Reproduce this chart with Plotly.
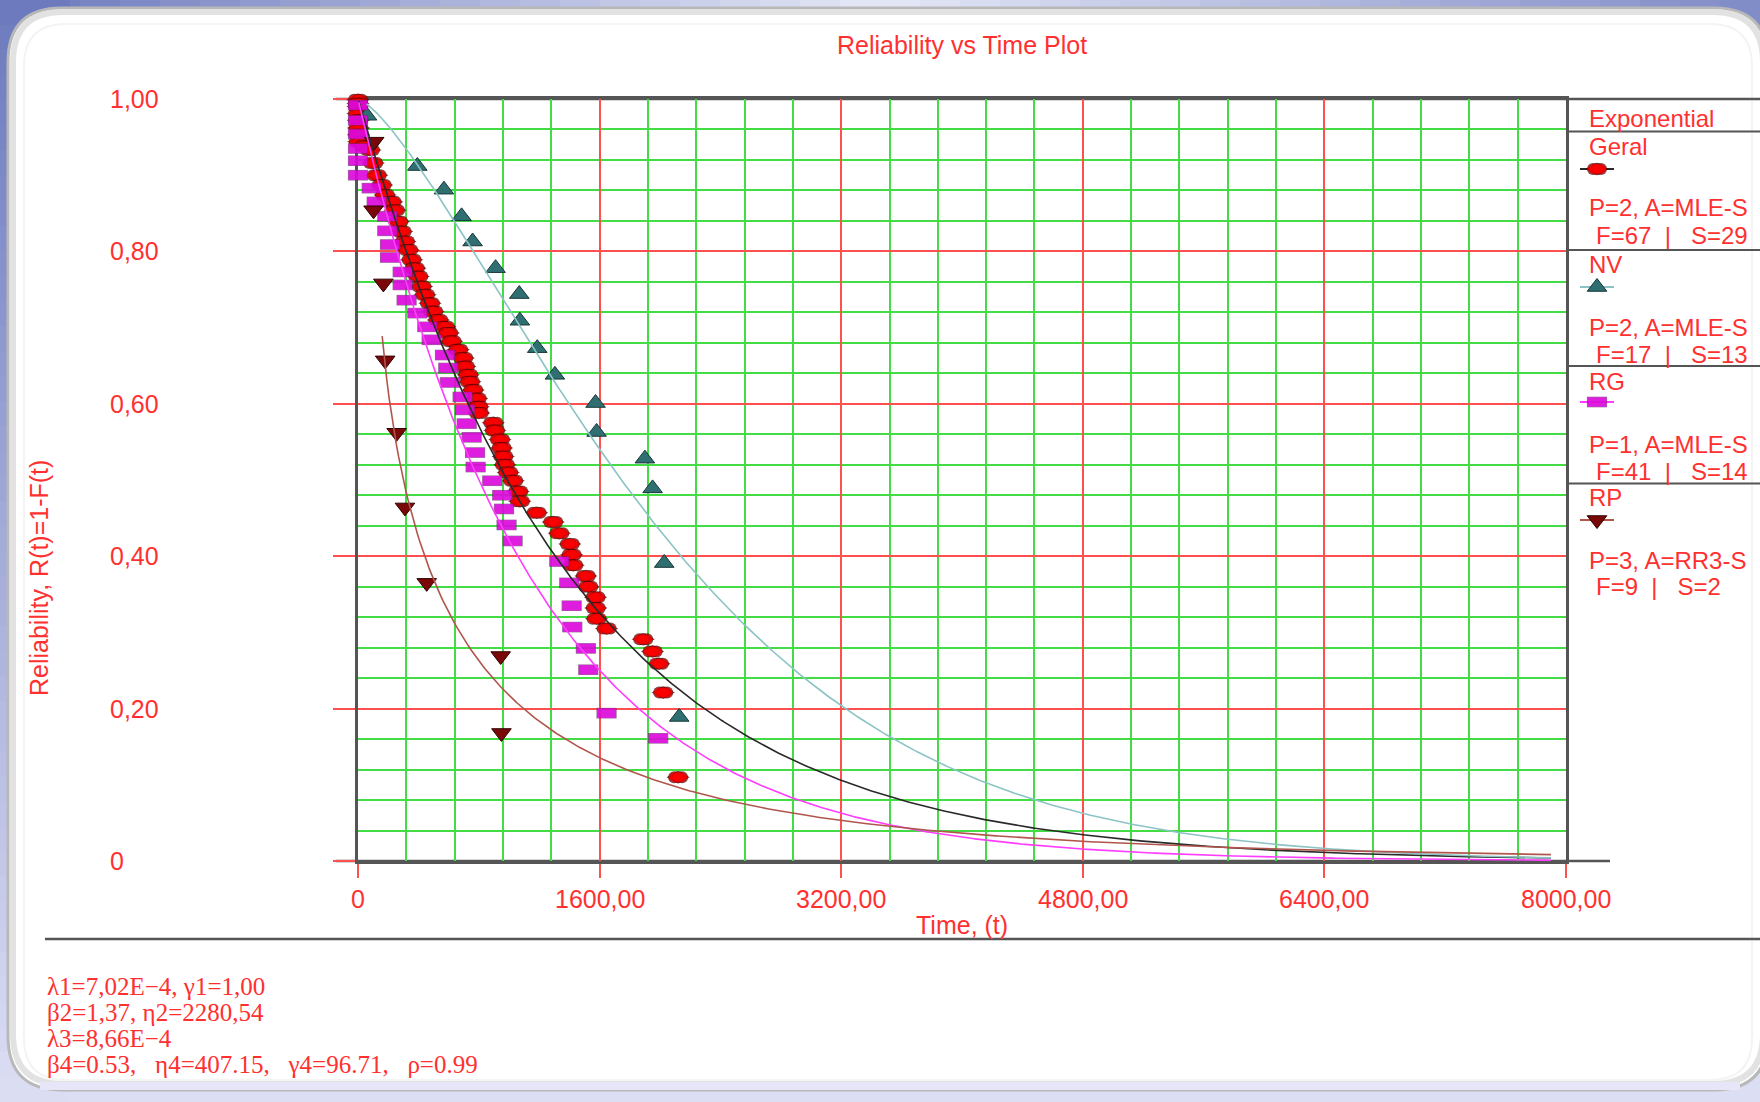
import numpy as np
import plotly.graph_objects as go

W, H = 1760, 1102

# ---------------- failure points: time t and reliability R(t) ----------------
geral_t = [0, 0, 0, 0, 2, 3, 3, 5, 40, 79, 101, 124, 157, 179, 223, 245, 267, 289, 311, 333,
           355, 377, 399, 421, 444, 477, 498, 532, 576, 598, 620, 664, 697, 708, 730, 741, 763,
           786, 796, 800, 896, 907, 940, 951, 962, 973, 995, 1028, 1061, 1072, 1183, 1293, 1333,
           1403, 1415, 1425, 1509, 1525, 1573, 1575, 1580, 1646, 1889, 1951, 1993, 2021, 2120]
geral_r = [0.999, 0.994, 0.990, 0.981, 0.972, 0.962, 0.953, 0.944, 0.938, 0.933, 0.916, 0.900,
           0.887, 0.874, 0.865, 0.854, 0.839, 0.826, 0.813, 0.802, 0.789, 0.778, 0.767, 0.754,
           0.743, 0.732, 0.721, 0.710, 0.701, 0.693, 0.682, 0.671, 0.660, 0.649, 0.638, 0.629,
           0.618, 0.607, 0.596, 0.588, 0.575, 0.565, 0.553, 0.542, 0.531, 0.520, 0.510, 0.499,
           0.485, 0.472, 0.457, 0.445, 0.430, 0.416, 0.402, 0.388, 0.374, 0.360, 0.346, 0.332,
           0.318, 0.305, 0.291, 0.275, 0.259, 0.221, 0.110]

nv_t = [60, 393, 569, 686, 759, 911, 1068, 1072, 1187, 1304, 1573, 1580, 1900, 1951, 2028, 2127]
nv_r = [0.978, 0.912, 0.881, 0.846, 0.813, 0.778, 0.744, 0.709, 0.673, 0.638, 0.601, 0.563,
        0.528, 0.489, 0.391, 0.189]

rg_t = [0, 0, 0, 0, 0, 0, 91, 124, 194, 194, 212, 212, 296, 296, 322, 393, 459, 488, 576, 598,
        609, 693, 708, 720, 753, 775, 779, 889, 955, 967, 984, 1024, 1333, 1399, 1415, 1419,
        1509, 1525, 1646, 1988]
rg_r = [0.992, 0.972, 0.954, 0.935, 0.919, 0.900, 0.883, 0.865, 0.846, 0.827, 0.809, 0.792,
        0.773, 0.756, 0.736, 0.719, 0.701, 0.684, 0.664, 0.647, 0.628, 0.609, 0.592, 0.574,
        0.556, 0.536, 0.517, 0.499, 0.480, 0.462, 0.441, 0.420, 0.393, 0.365, 0.335, 0.307,
        0.279, 0.251, 0.194, 0.161]

rp_t = [107, 103, 168, 180, 256, 311, 455, 945, 950]
rp_r = [0.944, 0.854, 0.758, 0.657, 0.562, 0.464, 0.365, 0.269, 0.168]

# ---------------- fitted model parameters ----------------
LAMBDA1, GAMMA1 = 7.02e-4, 1.00            # Geral: 2-p exponential
BETA2, ETA2 = 1.37, 2280.54                # NV: 2-p Weibull
LAMBDA3 = 8.66e-4                          # RG: 1-p exponential
BETA4, ETA4, GAMMA4 = 0.53, 407.15, 96.71  # RP: 3-p Weibull
T_END = 7900
curve_start = {"Geral": 5, "NV": 57, "RG": 5, "RP": 160}

# ---------------- axes and text ----------------
x_ticks = [0, 1600, 3200, 4800, 6400, 8000]
x_tick_text = ["0", "1600,00", "3200,00", "4800,00", "6400,00", "8000,00"]
y_ticks = [0, 0.2, 0.4, 0.6, 0.8, 1.0]
y_tick_text = ["0", "0,20", "0,40", "0,60", "0,80", "1,00"]

legend_entries = [
    ("Geral", "P=2, A=MLE-S", "F=67", "S=29"),
    ("NV", "P=2, A=MLE-S", "F=17", "S=13"),
    ("RG", "P=1, A=MLE-S", "F=41", "S=14"),
    ("RP", "P=3, A=RR3-S", "F=9", "S=2"),
]
NB = "\u00a0"
GAP = "," + NB * 3
param_lines = [
    "λ1=7,02E−4," + NB + "γ1=1,00",
    "β2=1,37," + NB + "η2=2280,54",
    "λ3=8,66E−4",
    "β4=0.53" + GAP + "η4=407.15" + GAP + "γ4=96.71" + GAP + "ρ=0.99",
]

# ---------------- styling ----------------
TXT = "#ff3030"
SANS = "Liberation Sans, Arial, sans-serif"
SERIF = "Liberation Serif, Times New Roman, serif"
GRID_GREEN = "#44dc44"
GRID_RED = "#ff5050"
FRAME = "#555555"

RED_FILL, RED_EDGE = "#ff0000", "#4a0000"
NV_FILL, NV_EDGE, NV_LINE = "#2f6f72", "#173636", "#8cc3c4"
RG_FILL, RG_EDGE, RG_LINE = "#ff00ff", "#6a246a", "#ff3cff"
RP_FILL, RP_EDGE, RP_LINE = "#7a0808", "#300000", "#b0564c"
GERAL_LINE = "#2a2a2a"


def fx(px):
    return px / W


def fy(py):
    return 1 - py / H


PLOT_L, PLOT_R, PLOT_T, PLOT_B = 358, 1566, 99, 861

# ellipse glyph: pointed wide diamond plus three overlapping discs (centre, left, right)
ELLIPSE_PARTS = [
    # symbol, size, angle, standoff
    ("diamond-wide", 14.5, 0, 0),
    ("circle", 10.0, 90, 4.0),
    ("circle", 10.0, -90, 4.0),
    ("circle", 10.5, 0, 0),
]


def geral_marker(t, r, xa="x", ya="y"):
    # per point: dark underlay of the glyph, then the red glyph on top
    xs, ys, sym, size, col, ang, so = [], [], [], [], [], [], []
    for a, b in zip(t, r):
        for grow, c in ((2.0, RED_EDGE), (0.0, RED_FILL)):
            for s, sz, an, st in ELLIPSE_PARTS:
                xs.append(a); ys.append(b); sym.append(s)
                size.append(sz + (grow * 1.0 if s == "circle" else grow * 1.1))
                col.append(c); ang.append(an); so.append(st)
    return go.Scatter(x=xs, y=ys, xaxis=xa, yaxis=ya, mode="markers", cliponaxis=False,
                      hoverinfo="skip", showlegend=False,
                      marker=dict(symbol=sym, size=size, color=col, angle=ang, standoff=so,
                                  line=dict(width=0)))


def rg_marker(t, r, xa="x", ya="y"):
    # flat rectangles built from thick horizontal strokes
    xs, ys, size, lw, lc = [], [], [], [], []
    for a, b in zip(t, r):
        for sz, w, c in ((14.4, 10.6, RG_EDGE), (13.4, 9.4, RG_FILL)):
            xs.append(a); ys.append(b); size.append(sz); lw.append(w); lc.append(c)
    return go.Scatter(x=xs, y=ys, xaxis=xa, yaxis=ya, mode="markers", cliponaxis=False,
                      hoverinfo="skip", showlegend=False,
                      marker=dict(symbol="line-ew", size=size, line=dict(width=lw, color=lc)))


def tri_marker(t, r, symbol, fill, edge, xa="x", ya="y"):
    return go.Scatter(x=t, y=r, xaxis=xa, yaxis=ya, mode="markers", cliponaxis=False,
                      hoverinfo="skip", showlegend=False,
                      marker=dict(symbol=symbol, size=17, color=fill, line=dict(width=1, color=edge)))


fig = go.Figure()

# point series
fig.add_trace(geral_marker(geral_t, geral_r))
fig.add_trace(tri_marker(nv_t, nv_r, "triangle-up", NV_FILL, NV_EDGE))
fig.add_trace(rg_marker(rg_t, rg_r))
fig.add_trace(tri_marker(rp_t, rp_r, "triangle-down", RP_FILL, RP_EDGE))

# fitted reliability curves
tg = np.linspace(curve_start["Geral"], T_END, 500)
tn = np.linspace(curve_start["NV"], T_END, 500)
tr = np.linspace(curve_start["RG"], T_END, 500)
tp = np.linspace(curve_start["RP"], T_END, 500)
curves = [
    (tg, np.exp(-LAMBDA1 * (tg - GAMMA1)), GERAL_LINE),
    (tn, np.exp(-(tn / ETA2) ** BETA2), NV_LINE),
    (tr, np.exp(-LAMBDA3 * tr), RG_LINE),
    (tp, np.exp(-((tp - GAMMA4) / ETA4) ** BETA4), RP_LINE),
]
for t, r, c in curves:
    fig.add_trace(go.Scatter(x=t, y=r, mode="lines", line=dict(color=c, width=1.6),
                             hoverinfo="skip", showlegend=False))

# ---------------- legend panel (own pixel-space axes) ----------------
icon_y = [169, 287, 402, 520]
icon_x = 1597
line_colors = [GERAL_LINE, NV_LINE, RG_LINE, RP_LINE]
for yy, lc in zip(icon_y, line_colors):
    fig.add_trace(go.Scatter(x=[icon_x - 17, icon_x + 17], y=[yy, yy], xaxis="x2", yaxis="y2",
                             mode="lines", line=dict(color=lc, width=2), hoverinfo="skip",
                             showlegend=False))
fig.add_trace(geral_marker([icon_x], [icon_y[0]], "x2", "y2"))
fig.add_trace(tri_marker([icon_x], [icon_y[1]], "triangle-up", NV_FILL, NV_EDGE, "x2", "y2"))
fig.add_trace(rg_marker([icon_x], [icon_y[2]], "x2", "y2"))
fig.add_trace(tri_marker([icon_x], [icon_y[3]], "triangle-down", RP_FILL, RP_EDGE, "x2", "y2"))

# ---------------- background shapes ----------------
shapes = []


def hex_mix(c1, c2, f):
    a = [int(c1[i:i + 2], 16) for i in (1, 3, 5)]
    b = [int(c2[i:i + 2], 16) for i in (1, 3, 5)]
    return "#%02x%02x%02x" % tuple(int(round(a[k] + (b[k] - a[k]) * f)) for k in range(3))


shapes.append(dict(type="rect", xref="paper", yref="paper", x0=0, x1=1, y0=0, y1=1,
                   fillcolor="#dcdef4", line_width=0, layer="below"))
# top band: blue at the sides, pale in the middle
n_band = 44
for i in range(n_band):
    f0 = i / n_band
    mid = (i + 0.5) / n_band
    col = hex_mix("#6c7abd", "#e4e7f6", mid / 0.5) if mid < 0.5 else hex_mix("#e4e7f6", "#7f8bc6", (mid - 0.5) / 0.5)
    shapes.append(dict(type="rect", xref="paper", yref="paper", x0=f0, x1=f0 + 1 / n_band + 0.001,
                       y0=fy(70), y1=1, fillcolor=col, line_width=0, layer="below"))
# left band: blue at the top fading to lavender
for i in range(n_band):
    f0 = i / n_band
    col = hex_mix("#6c7abd", "#dcdef4", (i + 0.5) / n_band)
    shapes.append(dict(type="rect", xref="paper", yref="paper", x0=0, x1=fx(70),
                       y0=fy(H * (f0 + 1 / n_band) + 1), y1=fy(H * f0), fillcolor=col,
                       line_width=0, layer="below"))


def rounded(x0, y0, x1, y1, rad):
    pts = [("M", (x0 + rad, y0)), ("L", (x1 - rad, y0)), ("Q", (x1, y0), (x1, y0 + rad)),
           ("L", (x1, y1 - rad)), ("Q", (x1, y1), (x1 - rad, y1)), ("L", (x0 + rad, y1)),
           ("Q", (x0, y1), (x0, y1 - rad)), ("L", (x0, y0 + rad)), ("Q", (x0, y0), (x0 + rad, y0))]
    out = ""
    for p in pts:
        cmd, coords = p[0], p[1:]
        out += cmd + " ".join("%.5f,%.5f" % (fx(a), fy(b)) for a, b in coords) + " "
    return out + "Z"


shapes.append(dict(type="path", xref="paper", yref="paper", path=rounded(8, 8, 1768, 1090, 54),
                   fillcolor="#ffffff", line=dict(color="#b8b8b8", width=3), layer="below"))
shapes.append(dict(type="path", xref="paper", yref="paper", path=rounded(13, 12, 1763, 1084, 50),
                   fillcolor="rgba(0,0,0,0)", line=dict(color="#e2e2e2", width=6), layer="below"))
shapes.append(dict(type="path", xref="paper", yref="paper", path=rounded(24, 24, 1752, 1080, 42),
                   fillcolor="rgba(0,0,0,0)", line=dict(color="#f4f4f4", width=2), layer="below"))
shapes.append(dict(type="rect", xref="paper", yref="paper", x0=fx(40), x1=fx(1740),
                   y0=fy(1090), y1=fy(1082), fillcolor="#e6e6f8", line_width=0, layer="below"))


def hline(py, px0, px1, color=FRAME, width=2.5):
    shapes.append(dict(type="line", xref="paper", yref="paper", x0=fx(px0), x1=fx(px1),
                       y0=fy(py), y1=fy(py), line=dict(color=color, width=width), layer="below"))


def vline(px, py0, py1, color=FRAME, width=2.5):
    shapes.append(dict(type="line", xref="paper", yref="paper", x0=fx(px), x1=fx(px),
                       y0=fy(py0), y1=fy(py1), line=dict(color=color, width=width), layer="below"))


# frame pieces reaching outside the plot area
hline(PLOT_T, 336, W)
hline(PLOT_B, 336, 1610)
vline(PLOT_L, PLOT_B, 876, width=2)
vline(PLOT_R, PLOT_B, 876, width=2)
# legend dividers
for yy in (131.5, 250, 366, 483.5):
    hline(yy, PLOT_R, W, width=2)
# separator above the parameter block
hline(939, 45, W, width=2.5)

# ---------------- annotations ----------------
ann = []


def label(text, x, y, xref="paper", yref="paper", size=25, xanchor="center", yanchor="middle",
          family=SANS, angle=0):
    ann.append(dict(text=text, x=x, y=y, xref=xref, yref=yref, showarrow=False,
                    xanchor=xanchor, yanchor=yanchor, textangle=angle,
                    font=dict(family=family, size=size, color=TXT)))


label("Reliability vs Time Plot", fx(962), fy(45))
label("Time, (t)", fx(962), fy(925))
label("Reliability, R(t)=1-F(t)", fx(39), fy(578), angle=-90)

for v, s in zip(y_ticks, y_tick_text):
    label(s, fx(108), v, yref="y", xanchor="left")
for v, s in zip(x_ticks, x_tick_text):
    label(s, v, fy(899), xref="x")

LEG_FONT = 24
label("Exponential", fx(1587), fy(118), xanchor="left", size=LEG_FONT)
head_y = [146, 264, 382, 497]
p_y = [208, 327, 444, 560]
f_y = [235, 354, 471, 586]
for (name, ptxt, ftxt, stxt), hy, py_, fy_ in zip(legend_entries, head_y, p_y, f_y):
    label(name, fx(1587), fy(hy), xanchor="left", size=LEG_FONT)
    label(ptxt, fx(1587), fy(py_), xanchor="left", size=LEG_FONT)
    label(ftxt + NB * 2 + "|" + NB * 3 + stxt, fx(1594), fy(fy_), xanchor="left", size=LEG_FONT)

for i, line in enumerate(param_lines):
    label(line, fx(45), fy(986 + i * 26), xanchor="left", family=SERIF, size=25)

# ---------------- layout ----------------
fig.update_layout(
    width=W, height=H,
    margin=dict(l=0, r=0, t=0, b=0, pad=0),
    paper_bgcolor="#ffffff",
    plot_bgcolor="rgba(0,0,0,0)",
    shapes=shapes,
    annotations=ann,
    showlegend=False,
    xaxis=dict(domain=[fx(PLOT_L), fx(PLOT_R)], range=[0, 8000], tickvals=x_ticks,
               showticklabels=False, showgrid=True, gridcolor=GRID_RED, gridwidth=2,
               zeroline=False, showline=True, linecolor=FRAME, linewidth=2.5, mirror=True,
               ticks="outside", ticklen=14, tickwidth=2, tickcolor=GRID_RED,
               layer="below traces", fixedrange=True,
               minor=dict(dtick=320, tick0=0, showgrid=True, gridcolor=GRID_GREEN, gridwidth=2,
                          ticks="")),
    yaxis=dict(domain=[fy(PLOT_B), fy(PLOT_T)], range=[0, 1], tickvals=y_ticks,
               showticklabels=False, showgrid=True, gridcolor=GRID_RED, gridwidth=2,
               zeroline=False, showline=True, linecolor=FRAME, linewidth=2.5, mirror=True,
               ticks="outside", ticklen=22, tickwidth=2, tickcolor=GRID_RED,
               layer="below traces", fixedrange=True,
               minor=dict(dtick=0.04, tick0=0, showgrid=True, gridcolor=GRID_GREEN, gridwidth=2,
                          ticks="")),
    xaxis2=dict(domain=[fx(PLOT_R), 1], range=[PLOT_R, W], visible=False, anchor="y2",
                fixedrange=True),
    yaxis2=dict(domain=[0, 1], range=[H, 0], visible=False, anchor="x2", fixedrange=True),
)

fig.write_html("out.html")
